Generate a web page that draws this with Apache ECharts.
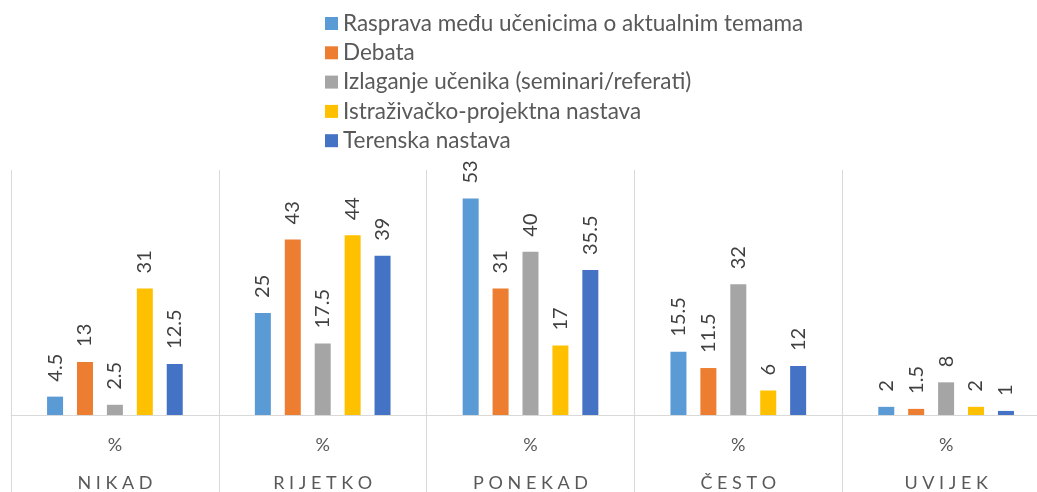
<!DOCTYPE html>
<html>
<head>
<meta charset="utf-8">
<script src="https://cdn.jsdelivr.net/npm/echarts@6/dist/echarts.min.js"></script>
<style>
  html, body { margin: 0; padding: 0; background: #fff; }
  #chart { width: 1037px; height: 492px; }
</style>
</head>
<body>
<div id="chart"></div>
<script>
// podaci očitani sa slike
var categories = ['NIKAD', 'RIJETKO', 'PONEKAD', 'ČESTO', 'UVIJEK'];
var seriesNames = [
  'Rasprava među učenicima o aktualnim temama',
  'Debata',
  'Izlaganje učenika (seminari/referati)',
  'Istraživačko-projektna nastava',
  'Terenska nastava'
];
var rasprava = [4.5, 25, 53, 15.5, 2];
var debata = [13, 43, 31, 11.5, 1.5];
var izlaganje = [2.5, 17.5, 40, 32, 8];
var istrazivacka = [31, 44, 17, 6, 2];
var terenska = [12.5, 39, 35.5, 12, 1];
var colors = ['#5B9BD5', '#ED7D31', '#A5A5A5', '#FFC000', '#4472C4'];

var fontFamily = 'Lato, "Open Sans", sans-serif';
var allValues = [rasprava, debata, izlaganje, istrazivacka, terenska];

var chart = echarts.init(document.getElementById('chart'));

/**razmaknuta slova za naziv kategorije*/
function spaced(s) {
  return s.split('').join(' ');
}

var series = allValues.map(function (vals, i) {
  return {
    name: seriesNames[i],
    type: 'bar',
    data: vals,
    barWidth: 16,
    barGap: '87%',
    itemStyle: { color: colors[i] },
    label: {
      show: true,
      position: 'top',
      rotate: 90,
      align: 'left',
      verticalAlign: 'middle',
      distance: 15,
      color: '#404040',
      fontSize: 20,
      fontFamily: fontFamily
    }
  };
});

chart.setOption({
  animation: false,
  textStyle: { fontFamily: fontFamily },
  legend: {
    orient: 'vertical',
    left: 320,
    top: 7,
    itemWidth: 13,
    itemHeight: 13,
    itemGap: 6.3,
    icon: 'rect',
    textStyle: { color: '#595959', fontSize: 22.5, lineHeight: 22.3, fontFamily: fontFamily }
  },
  grid: {
    left: 11, width: 1039, top: 170, bottom: 77,
    containLabel: false,
    outerBoundsMode: 'none'
  },
  xAxis: [{
    type: 'category',
    data: categories,
    axisLine: { show: true, lineStyle: { color: '#d9d9d9', width: 1 } },
    axisTick: { show: true, length: 80, lineStyle: { color: '#d9d9d9' } },
    splitLine: { show: true, lineStyle: { color: '#d9d9d9' } },
    axisLabel: {
      margin: 21,
      color: '#595959',
      fontSize: 18,
      formatter: function () { return '%'; }
    }
  }, {
    type: 'category',
    data: categories,
    position: 'bottom',
    axisLine: { show: false },
    axisTick: { show: false },
    splitLine: { show: false },
    axisLabel: {
      margin: 59,
      color: '#595959',
      fontSize: 18,
      formatter: function (v) { return spaced(v); }
    }
  }],
  yAxis: {
    type: 'value',
    min: 0,
    max: 60,
    show: false,
    splitLine: { show: false }
  },
  series: series
});
</script>
</body>
</html>
